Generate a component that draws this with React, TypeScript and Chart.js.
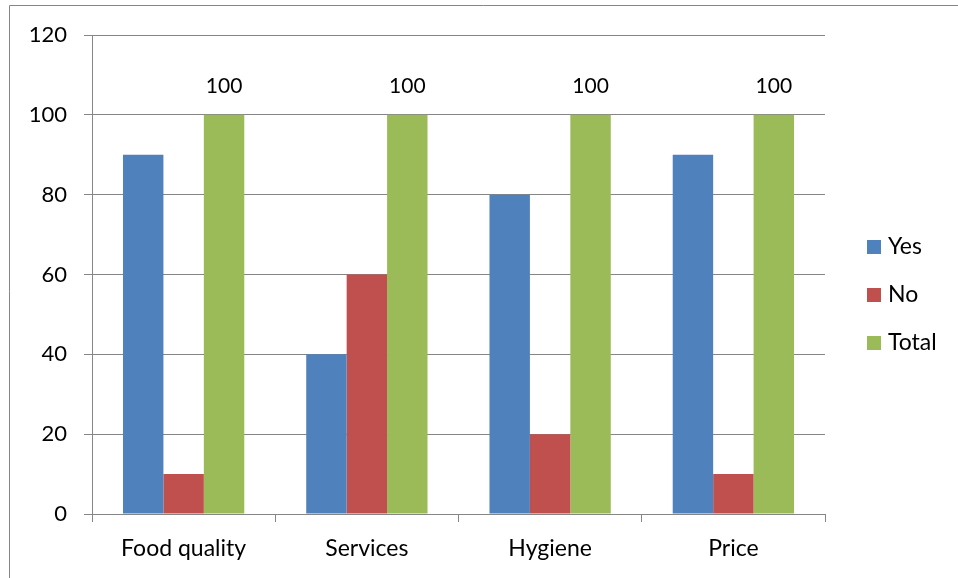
import React, { useEffect, useRef } from "react";
import { Chart, registerables } from "chart.js";

Chart.register(...registerables);

const categories = ["Food quality", "Services", "Hygiene", "Price"];
const yesValues = [90, 40, 80, 90];
const noValues = [10, 60, 20, 10];
const totalValues = [100, 100, 100, 100];
const seriesNames = ["Yes", "No", "Total"];
const seriesColors = ["#4F81BD", "#C0504D", "#9BBB59"];

const FONT = "Lato, 'Open Sans', sans-serif";
const GRID = "#868686";

const framePlugin = {
  id: "frame",
  beforeDraw(chart: any) {
    const ctx = chart.ctx;
    ctx.save();
    ctx.strokeStyle = GRID;
    ctx.lineWidth = 1;
    ctx.beginPath();
    ctx.moveTo(9.5, chart.height);
    ctx.lineTo(9.5, 5.5);
    ctx.lineTo(chart.width, 5.5);
    ctx.stroke();
    ctx.restore();
  },
};

const labelPlugin = {
  id: "totalLabels",
  afterDatasetsDraw(chart: any) {
    const ctx = chart.ctx;
    const meta = chart.getDatasetMeta(2);
    ctx.save();
    ctx.font = `21px ${FONT}`;
    ctx.fillStyle = "#000";
    ctx.textAlign = "center";
    ctx.textBaseline = "middle";
    meta.data.forEach((el: any, i: number) => {
      ctx.fillText(String(totalValues[i]), el.x, el.y - 29);
    });
    ctx.restore();
  },
};

const legendPlugin = {
  id: "customLegend",
  afterDraw(chart: any) {
    const ctx = chart.ctx;
    const area = chart.chartArea;
    ctx.save();
    ctx.font = `23px ${FONT}`;
    ctx.textBaseline = "middle";
    ctx.textAlign = "left";
    const x0 = area.right + 42;
    const yStart = 247;
    const step = 48;
    seriesNames.forEach((name, i) => {
      const cy = yStart + i * step;
      ctx.fillStyle = seriesColors[i];
      ctx.fillRect(x0, cy - 7, 14, 14);
      ctx.fillStyle = "#000";
      ctx.fillText(name, x0 + 21, cy);
    });
    ctx.restore();
  },
};

export default function App() {
  const ref = useRef<HTMLCanvasElement | null>(null);
  useEffect(() => {
    if (!ref.current) return;
    const chart = new Chart(ref.current, {
      type: "bar",
      data: {
        labels: categories,
        datasets: [
          { label: seriesNames[0], data: yesValues, backgroundColor: seriesColors[0] },
          { label: seriesNames[1], data: noValues, backgroundColor: seriesColors[1] },
          { label: seriesNames[2], data: totalValues, backgroundColor: seriesColors[2] },
        ],
      },
      options: {
        animation: false,
        responsive: false,
        maintainAspectRatio: false,
        datasets: { bar: { categoryPercentage: 0.662, barPercentage: 1 } },
        layout: { padding: { top: 35, right: 133, left: 0, bottom: 0 } },
        plugins: { legend: { display: false }, tooltip: { enabled: false } },
        scales: {
          x: {
            grid: { display: true, drawOnChartArea: false, drawTicks: true, tickLength: 8, color: GRID, offset: true },
            border: { display: true, color: GRID },
            ticks: { color: "#000", font: { family: FONT, size: 23 }, padding: 13, maxRotation: 0 },
            afterFit(scale: any) { scale.height = 64; },
          },
          y: {
            min: 0,
            max: 120,
            grid: { color: GRID, tickLength: 8, drawTicks: true },
            border: { display: true, color: GRID },
            ticks: { stepSize: 20, color: "#000", font: { family: FONT, size: 22 }, padding: 17 },
            afterFit(scale: any) { scale.width = 92; },
          },
        },
      },
      plugins: [framePlugin, labelPlugin, legendPlugin],
    });
    return () => chart.destroy();
  }, []);
  return (
    <div style={{ position: "fixed", left: 0, top: 0, width: 958, height: 578, background: "#fff" }}>
      <canvas ref={ref} width={958} height={578} style={{ display: "block" }} />
    </div>
  );
}
